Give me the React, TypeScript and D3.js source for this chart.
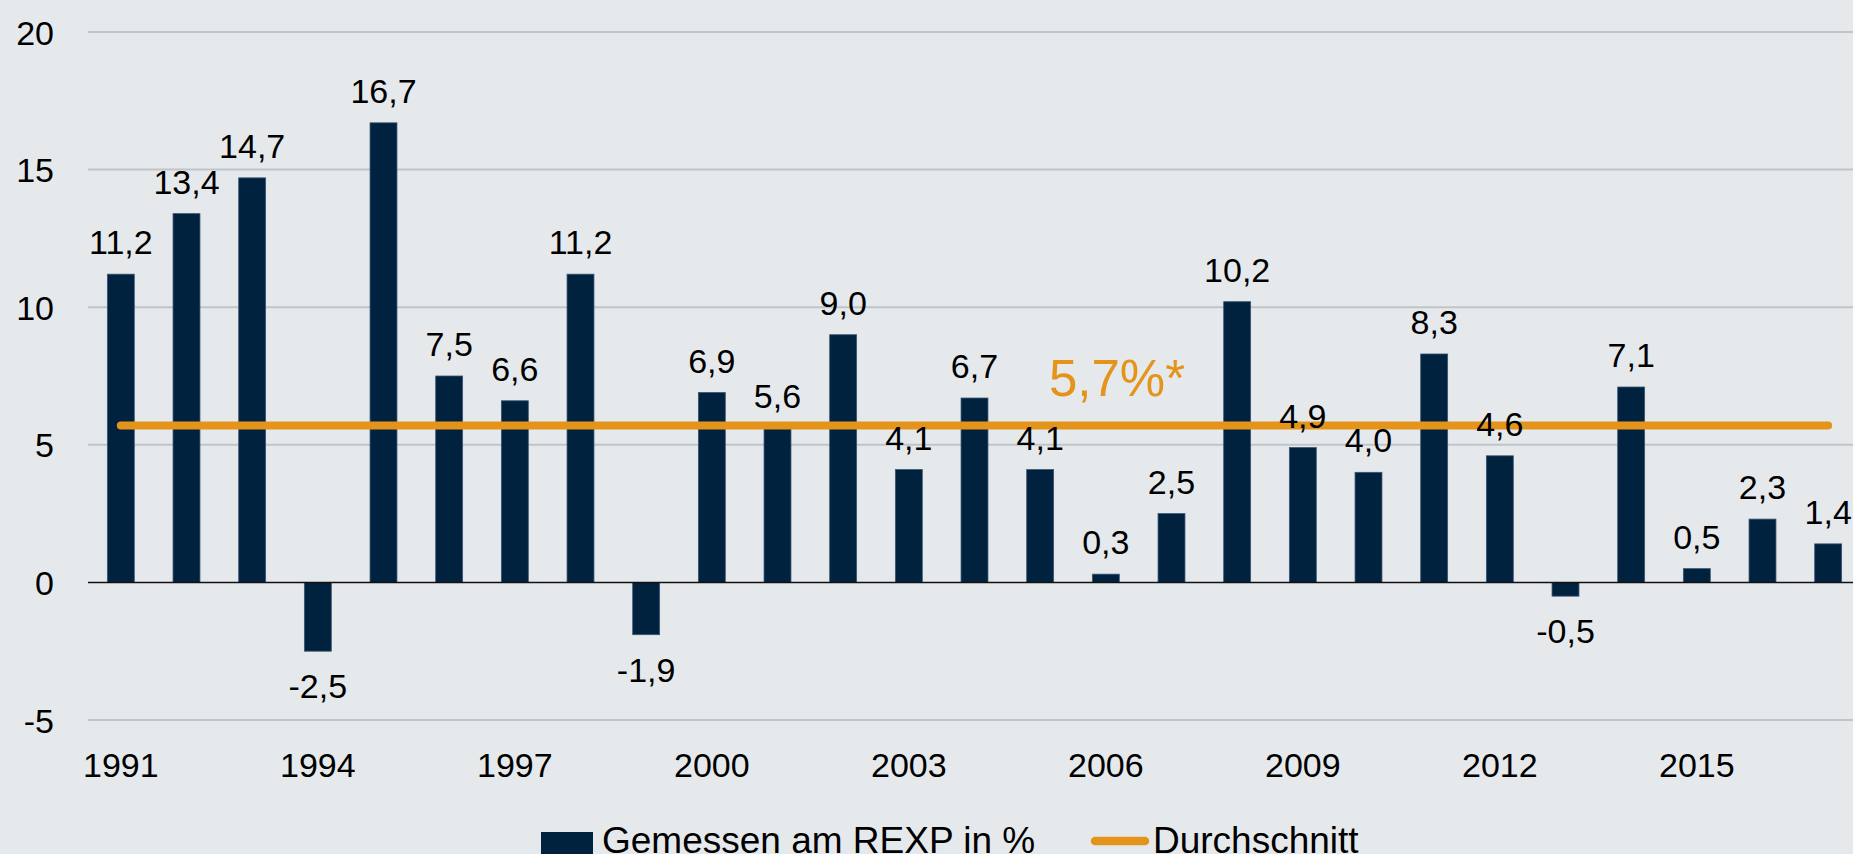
import React from 'react';
import * as d3 from 'd3';

const years = [
  1991, 1992, 1993, 1994, 1995, 1996, 1997, 1998, 1999, 2000, 2001, 2002, 2003, 2004,
  2005, 2006, 2007, 2008, 2009, 2010, 2011, 2012, 2013, 2014, 2015, 2016, 2017
];
const values = [
  11.2, 13.4, 14.7, -2.5, 16.7, 7.5, 6.6, 11.2, -1.9, 6.9, 5.6, 9.0, 4.1, 6.7,
  4.1, 0.3, 2.5, 10.2, 4.9, 4.0, 8.3, 4.6, -0.5, 7.1, 0.5, 2.3, 1.4
];
const average = 5.7;
const yTicks = [-5, 0, 5, 10, 15, 20];
const xTickYears = [1991, 1994, 1997, 2000, 2003, 2006, 2009, 2012, 2015];
const legendLabels = ['Gemessen am REXP in %', 'Durchschnitt'];

const W = 1853;
const H = 854;
const NAVY = '#00223f';
const ORANGE = '#e4941b';
const FONT = '"Liberation Sans", Arial, sans-serif';

const fmt = (v: number) => v.toFixed(1).replace('.', ',');

const App = () => {
  const x = d3
    .scaleBand<number>()
    .domain(years)
    .range([88, 1861])
    .paddingInner(0.59)
    .paddingOuter(0.295);
  const y = d3.scaleLinear().domain([-5, 20]).range([720, 32]);
  const cx = (yr: number) => (x(yr) as number) + x.bandwidth() / 2;

  const avgLine = d3.line<number>()
    .x((yr) => cx(yr))
    .y(() => y(average));

  return (
    <svg
      width={W}
      height={H}
      style={{ position: 'absolute', left: 0, top: 0, display: 'block' }}
      fontFamily={FONT}
    >
      <rect width={W} height={H} fill="#e6e9ec" />

      {/* grid */}
      {yTicks.filter((t) => t !== 0).map((t) => (
        <line key={t} x1={88} x2={W} y1={y(t)} y2={y(t)} stroke="#bfc4c9" strokeWidth={2} />
      ))}

      {/* y labels */}
      {yTicks.map((t) => (
        <text key={t} x={54} y={y(t) + 12.5} textAnchor="end" fontSize={34} fill="#000">
          {t}
        </text>
      ))}

      {/* bars */}
      {years.map((yr, i) => {
        const v = values[i];
        return (
          <rect
            key={yr}
            x={x(yr)}
            y={Math.min(y(v), y(0))}
            width={x.bandwidth()}
            height={Math.abs(y(v) - y(0))}
            fill={NAVY}
            stroke="#3a5575"
            strokeWidth={0.8}
          />
        );
      })}

      {/* zero line */}
      <line x1={88} x2={W} y1={y(0)} y2={y(0)} stroke="#111" strokeWidth={1.5} />

      {/* average line */}
      <path
        d={avgLine([years[0], years[years.length - 1]]) || ''}
        stroke={ORANGE}
        strokeWidth={8}
        strokeLinecap="round"
        fill="none"
      />

      {/* bar labels */}
      {years.map((yr, i) => {
        const v = values[i];
        const ty = v >= 0 ? y(v) - 20 : y(v) + 47;
        return (
          <text key={yr} x={cx(yr)} y={ty} textAnchor="middle" fontSize={34} fill="#000">
            {fmt(v)}
          </text>
        );
      })}

      <text x={1117} y={396} textAnchor="middle" fontSize={51} fill={ORANGE}>
        {fmt(average)}%*
      </text>

      {/* x labels */}
      {xTickYears.map((yr) => (
        <text key={yr} x={cx(yr)} y={777} textAnchor="middle" fontSize={34} fill="#000">
          {yr}
        </text>
      ))}

      {/* legend */}
      <rect x={541} y={832} width={52} height={22} fill={NAVY} />
      <text x={602} y={853} fontSize={37} fill="#000">
        {legendLabels[0]}
      </text>
      <line x1={1095} x2={1145} y1={841} y2={841} stroke={ORANGE} strokeWidth={8.5} strokeLinecap="round" />
      <text x={1153} y={853} fontSize={37} fill="#000">
        {legendLabels[1]}
      </text>
    </svg>
  );
};

export default App;
